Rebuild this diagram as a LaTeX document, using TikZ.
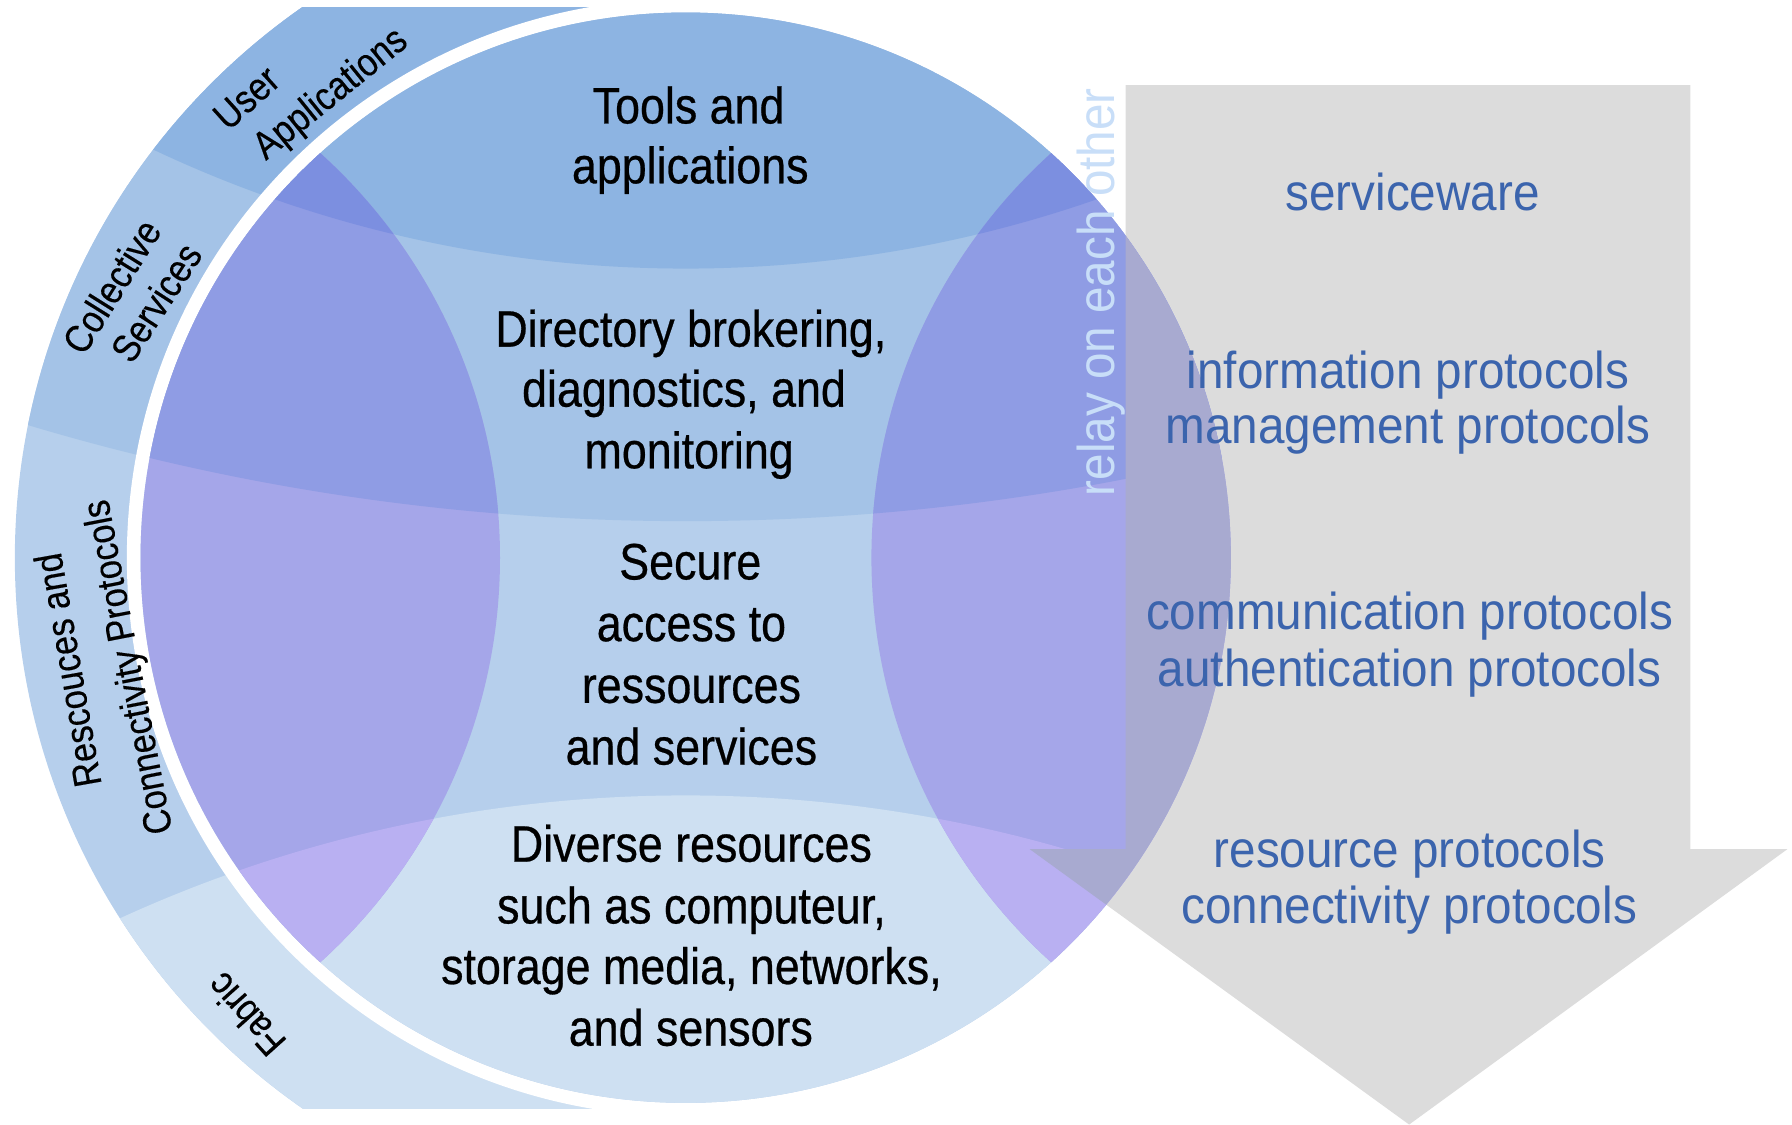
\documentclass[tikz,border=0pt]{standalone}
\usepackage{fontspec}
\setmainfont{Liberation Sans}
\newfontfamily\innerfont[FakeStretch=0.875,FakeBold=0.5]{Liberation Sans}
\newfontfamily\ringfont[FakeStretch=0.875,FakeBold=0.3]{Liberation Sans}
\newfontfamily\rightfont[FakeStretch=0.92]{Liberation Sans}
\definecolor{cT}{RGB}{141,180,226}
\definecolor{cDi}{RGB}{164,195,231}
\definecolor{cSe}{RGB}{182,207,236}
\definecolor{cDv}{RGB}{206,224,242}
\definecolor{lT}{RGB}{124,143,224}
\definecolor{lDi}{RGB}{143,156,228}
\definecolor{lSe}{RGB}{165,166,233}
\definecolor{lDv}{RGB}{185,176,242}
\definecolor{lensgray}{RGB}{168,170,208}
\definecolor{arrowgray}{RGB}{220,220,220}
\definecolor{protblue}{RGB}{59,100,173}
\definecolor{relayblue}{RGB}{200,222,248}
\newcommand\gridbands[4]{%
  \fill[#3] (-100,-100) rectangle (1700,1100);
  \fill[#2] (600,-1544) circle (2000);
  \fill[#1] (600,-857) circle (1092);
  \fill[#4] (600,1886) circle (1190);
}
\newcommand\arrowpath{(985,74.5) -- (1479,74.5) -- (1479,743) -- (1564,743) -- (1233,984) -- (901,743) -- (985,743) -- cycle}
\begin{document}
\begin{tikzpicture}[x=0.1mm,y=-0.1mm,
  intext/.style={font=\innerfont\fontsize{12.75}{15}\selectfont, anchor=base, inner sep=0pt, text=black},
  ringtext/.style={font=\ringfont\fontsize{9.76}{11}\selectfont, inner sep=0pt, text=black},
  prot/.style={font=\rightfont\fontsize{12.9}{15}\selectfont, text=protblue, anchor=base, inner sep=0pt},
  relay/.style={font=\rightfont\fontsize{12.9}{15}\selectfont, text=relayblue, inner sep=0pt}]
\useasboundingbox (0,0) rectangle (1568,984);
\coordinate (O) at (600,488);
% outer ring
\begin{scope}
  \clip (0,7) rectangle (600,970);
  \clip (O) circle (587);
  \gridbands{cT}{cDi}{cSe}{cDv}
\end{scope}
\fill[white] (O) circle (489);
% main disc
\begin{scope}
  \clip (O) circle (477);
  \gridbands{cT}{cDi}{cSe}{cDv}
\end{scope}
% grey arrow
\fill[arrowgray] \arrowpath;
% left lens
\begin{scope}
  \clip (O) circle (477);
  \clip (-39.5,488) circle (477);
  \gridbands{lT}{lDi}{lSe}{lDv}
\end{scope}
% right lens
\begin{scope}
  \clip (O) circle (477);
  \clip (1239.5,488) circle (477);
  \gridbands{lT}{lDi}{lSe}{lDv}
  \fill[lensgray] \arrowpath;
\end{scope}
% inner texts
\node[intext] (t1) at (602.5,108) {Tools and};
\node[intext] (t2) at (604,160.4) {applications};
\node[intext] (d1) at (604.5,303.3) {Directory brokering,};
\node[intext] (d2) at (598.5,355.8) {diagnostics, and};
\node[intext] (d3) at (603,409.8) {monitoring};
\node[intext] (s1) at (604,507) {Secure};
\node[intext] (s2) at (605,561) {access to};
\node[intext] (s3) at (605,615) {ressources};
\node[intext] (s4) at (605,669) {and services};
\node[intext] (v1) at (605,754) {Diverse resources};
\node[intext] (v2) at (605,808) {such as computeur,};
\node[intext] (v3) at (605,861) {storage media, networks,};
\node[intext] (v4) at (604.5,915) {and sensors};
% ring texts
\node[ringtext, rotate=42] (r1) at (215.5,85.5) {User};
\node[ringtext, rotate=39] (r2) at (290,83) {Applications};
\node[ringtext, rotate=58] (r3) at (97.5,250.5) {Collective};
\node[ringtext, rotate=57] (r4) at (136.5,264.5) {Services};
\node[ringtext, rotate=100] (r5) at (59,586.5) {Rescouces and};
\node[ringtext, rotate=101] (r6) at (114,583.5) {Connectivity Protocols};
\node[ringtext, rotate=132] (r7) at (215,888) {Fabric};
% relay text
\node[relay, rotate=90, anchor=base west] (relay) at (975,435) {relay on each other};
% right texts
\node[prot] (p1) at (1236,184) {serviceware};
\node[prot] (p2) at (1232,340) {information protocols};
\node[prot] (p3) at (1232,388.5) {management protocols};
\node[prot] (p4) at (1233.5,551) {communication protocols};
\node[prot] (p5) at (1233.5,601) {authentication protocols};
\node[prot] (p6) at (1233.5,759) {resource protocols};
\node[prot] (p7) at (1233,808.5) {connectivity protocols};
\end{tikzpicture}
\end{document}
